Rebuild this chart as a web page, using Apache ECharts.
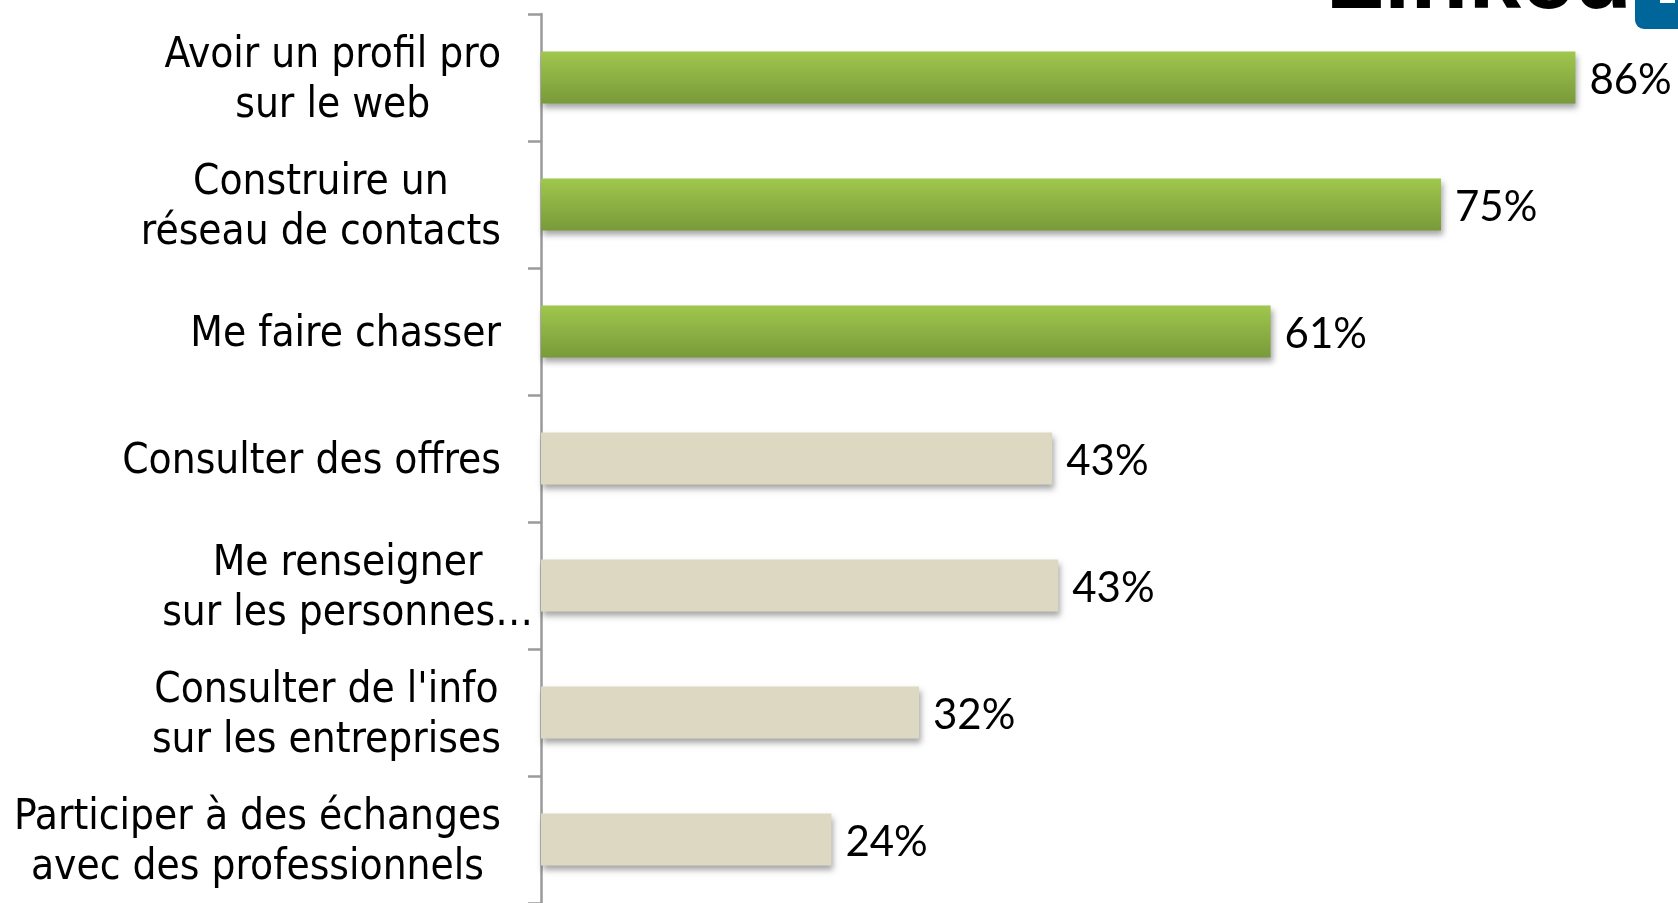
<!DOCTYPE html>
<html>
<head>
<meta charset="utf-8">
<title>LinkedIn usages</title>
<script src="https://cdn.jsdelivr.net/npm/echarts@6/dist/echarts.min.js"></script>
<style>
  html, body { margin: 0; padding: 0; background: #fff; }
  #chart { width: 1678px; height: 903px; }
</style>
</head>
<body>
<div id="chart"></div>
<script>
// Usages de LinkedIn - horizontal bars
var categories = [
  'Avoir un profil pro\nsur le web',
  'Construire un\nréseau de contacts',
  'Me faire chasser',
  'Consulter des offres',
  'Me renseigner\nsur les personnes…',
  "Consulter de l'info\nsur les entreprises",
  'Participer à des échanges\navec des professionnels'
];
var values = [86.2, 75.0, 60.8, 42.6, 43.1, 31.5, 24.2];
var highlighted = 3; // first bars drawn in green

(function() {
  var labelFont = '"DejaVu Sans Condensed", "DejaVu Sans", sans-serif';
  var valueFont = 'Lato, "Open Sans", sans-serif';
  var axisGrey = '#9a9a9a';

  var green = new echarts.graphic.LinearGradient(0, 0, 0, 1, [
    { offset: 0, color: '#a0c74d' },
    { offset: 1, color: '#789a3a' }
  ]);
  var beige = '#ddd8c2';

  var chart = echarts.init(document.getElementById('chart'), null, { renderer: 'canvas' });
  chart.setOption({
    animation: false,
    // plot runs to the right edge of the page; 12 px per percent
    grid: { left: 541, top: 14, right: 0, height: 890, containLabel: false },
    xAxis: {
      type: 'value',
      min: 0,
      max: 94.75,
      show: false
    },
    yAxis: {
      type: 'category',
      inverse: true,
      data: categories.map(function(c) {
        var item = { value: c };
        if (c.indexOf('…') >= 0) item.textStyle = { padding: [8, -32, 0, 0] };
        return item;
      }),
      axisLine: { lineStyle: { color: axisGrey, width: 2.5 } },
      axisTick: { show: true, length: 13, interval: 0, lineStyle: { color: axisGrey, width: 2.5 } },
      axisLabel: {
        interval: 0,
        margin: 40,
        align: 'right',
        padding: [8, 0, 0, 0],
        color: '#000',
        fontFamily: labelFont,
        fontSize: 42,
        lineHeight: 50,
        formatter: function(v) {
          return v.split('\n').map(function(l) { return '{c|' + l + '}'; }).join('\n');
        },
        rich: {
          c: { align: 'center', fontFamily: labelFont, fontSize: 42, lineHeight: 50, color: '#000' }
        }
      },
      splitLine: { show: false }
    },
    series: [{
      type: 'bar',
      data: values,
      barWidth: 52,
      itemStyle: {
        color: function(p) { return p.dataIndex < highlighted ? green : beige; },
        shadowColor: 'rgba(0,0,0,0.35)',
        shadowBlur: 6,
        shadowOffsetX: 2,
        shadowOffsetY: 4
      },
      label: {
        show: true,
        position: 'right',
        distance: 14,
        offset: [0, 3],
        color: '#000',
        fontFamily: valueFont,
        fontSize: 42,
        formatter: function(p) { return Math.round(p.value) + '%'; }
      }
    }],
    graphic: [
      {
        type: 'text',
        right: 46,
        top: -66,
        style: { text: 'Linked', fontFamily: '"Liberation Sans", Arial, sans-serif', fontWeight: 'bold', fontSize: 95, fill: '#000' }
      },
      {
        type: 'rect',
        shape: { x: 1635, y: -40, width: 80, height: 69, r: 9 },
        style: { fill: '#00669a' }
      },
      {
        type: 'rect',
        shape: { x: 1660, y: -10, width: 15, height: 13 },
        style: { fill: '#fff' }
      }
    ]
  });
  window.addEventListener('resize', function() { chart.resize(); });
})();
</script>
</body>
</html>
